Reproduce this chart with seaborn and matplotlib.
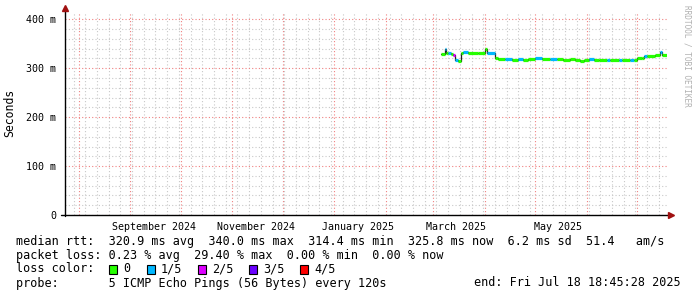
import matplotlib
matplotlib.use("Agg")
import matplotlib.pyplot as plt
import matplotlib.dates as mdates
from matplotlib.patches import Rectangle
import pandas as pd
import seaborn as sns

# ---------------- data ----------------
times = ["2025-03-06", "2025-03-08", "2025-03-09", "2025-03-10", "2025-03-12",
         "2025-03-13", "2025-03-14", "2025-03-16", "2025-03-18", "2025-03-19",
         "2025-03-22", "2025-03-28", "2025-04-01", "2025-04-02", "2025-04-07",
         "2025-04-09", "2025-04-13", "2025-04-17", "2025-04-21", "2025-04-24",
         "2025-04-27", "2025-05-01", "2025-05-05", "2025-05-10", "2025-05-14",
         "2025-05-18", "2025-05-22", "2025-05-25", "2025-05-28", "2025-05-30",
         "2025-06-02", "2025-06-05", "2025-06-08", "2025-06-13", "2025-06-15",
         "2025-06-20", "2025-06-22", "2025-06-27", "2025-06-29", "2025-07-01",
         "2025-07-04", "2025-07-05", "2025-07-07", "2025-07-12", "2025-07-15",
         "2025-07-16"]
median_ms = [330, 339, 331, 331, 330,
             327, 317, 315, 332, 333,
             332, 331, 340, 332, 320,
             319, 318, 317, 318, 317,
             319, 320, 319, 318, 318,
             317, 318, 316, 314, 317,
             318, 316, 317, 316, 317,
             316, 317, 316, 317, 320,
             322, 326, 326, 327, 333,
             327]
loss_level = [0, 1, 0, 1, 0,
              2, 1, 0, 0, 1,
              0, 0, 0, 1, 0,
              0, 1, 0, 1, 0,
              0, 1, 0, 1, 0,
              0, 0, 0, 0, 0,
              1, 0, 0, 1, 0,
              1, 0, 1, 0, 0,
              0, 1, 0, 0, 1,
              0]
end_time = "2025-07-18 18:45:28"
start_time = "2024-07-23 18:45:28"

loss_labels = ["0", "1/5", "2/5", "3/5", "4/5"]
loss_colors = ["#26ff00", "#00b8ff", "#dd00ff", "#6a00ff", "#ff0000"]

y_ticks = [0, 100, 200, 300, 400]
y_tick_labels = ["0", "100 m", "200 m", "300 m", "400 m"]
x_label_dates = ["2024-09-15", "2024-11-15", "2025-01-15", "2025-03-15", "2025-05-15"]
x_label_texts = ["September 2024", "November 2024", "January 2025", "March 2025", "May 2025"]

stats_lines = [
    "median rtt:  320.9 ms avg  340.0 ms max  314.4 ms min  325.8 ms now  6.2 ms sd  51.4   am/s",
    "packet loss: 0.23 % avg  29.40 % max  0.00 % min  0.00 % now",
]
probe_text = "probe:       5 ICMP Echo Pings (56 Bytes) every 120s"
end_text = "end: Fri Jul 18 18:45:28 2025"

# ---------------- figure ----------------
sns.set_theme(style="white")
plt.rcParams["font.family"] = ["DejaVu Sans Mono"]

W, H = 697, 297
fig = plt.figure(figsize=(W / 100, H / 100), dpi=100)
fig.patch.set_facecolor("white")

px_left, px_right, px_top, px_bottom = 64.8, 666.8, 13, 215
ax = fig.add_axes([px_left / W, (H - px_bottom) / H,
                   (px_right - px_left) / W, (px_bottom - px_top) / H])
ax.set_facecolor("white")

t = pd.to_datetime(times + [end_time], format="ISO8601")
vals = median_ms + [median_ms[-1]]
df = pd.DataFrame({"time": t, "median": vals})

sns.lineplot(data=df, x="time", y="median", drawstyle="steps-post",
             color="#202020", lw=0.9, ax=ax, zorder=3)
for i in range(len(times)):
    ax.hlines(median_ms[i], t[i], t[i + 1], colors=loss_colors[loss_level[i]],
              lw=2.3, zorder=4)

ax.set_xlim(pd.Timestamp(start_time), pd.Timestamp(end_time))
ax.set_ylim(0, 413)

# grids
ax.xaxis.set_major_locator(mdates.MonthLocator())
ax.xaxis.set_minor_locator(mdates.WeekdayLocator(byweekday=mdates.MO))
ax.xaxis.set_major_formatter(plt.NullFormatter())
ax.set_yticks(y_ticks)
ax.set_yticklabels(y_tick_labels)
ax.set_yticks(range(0, 413, 20), minor=True)

ax.grid(which="minor", color="#c8c8c8", linestyle=(0, (1, 2)), lw=0.8, zorder=0)
ax.grid(which="major", color="#f08080", linestyle=(0, (1, 2)), lw=0.8, zorder=1)
ax.set_axisbelow(True)

ax.tick_params(axis="y", which="major", direction="out", length=3, width=0.8,
               color="#404040", labelsize=7.2, pad=3, labelcolor="black")
ax.tick_params(axis="y", which="minor", length=0)
ax.tick_params(axis="x", which="major", direction="out", length=3, width=0.8,
               color="#404040", labelsize=7.2, pad=2)
ax.tick_params(axis="x", which="minor", direction="out", length=1.5, width=0.6,
               color="#606060")

for s in ["top", "right"]:
    ax.spines[s].set_visible(False)
ax.spines["left"].set_visible(False)
ax.spines["bottom"].set_visible(False)
ax.set_xlabel("")
ax.set_ylabel("")

# axis lines with arrows (rrdtool style)
top_ext = 1 + 5 / (px_bottom - px_top)
ax.plot([0, 0], [-0.005, top_ext], transform=ax.transAxes, color="black",
        lw=1, clip_on=False, zorder=5)
right_ext = 1 + 4 / (px_right - px_left)
ax.plot([-4 / (px_right - px_left), right_ext], [0, 0], transform=ax.transAxes,
        color="black", lw=1, clip_on=False, zorder=5)
ax.plot([0], [top_ext], marker="^", markersize=4.5, color="#a01010",
        transform=ax.transAxes, clip_on=False, zorder=6)
ax.plot([right_ext], [0], marker=">", markersize=4.5, color="#a01010",
        transform=ax.transAxes, clip_on=False, zorder=6)

# month labels
for d, lab in zip(x_label_dates, x_label_texts):
    ax.text(pd.Timestamp(d), -0.035, lab, transform=ax.get_xaxis_transform(),
            ha="center", va="top", fontsize=7.2, color="black")

# y label
fig.text(10 / W, 1 - 113 / H, "Seconds", rotation=90, ha="center", va="center",
         fontsize=8.3, color="black")

# watermark
fig.text(687 / W, 1 - 5 / H, "RRDTOOL / TOBI OETIKER", rotation=-90,
         ha="center", va="top", fontsize=5.6, color="#b0b0b0")

# legend / stats
fs = 8.5
ys = [241, 255, 269, 283]
for yy, line in zip(ys[:2], stats_lines):
    fig.text(16 / W, 1 - yy / H, line, ha="left", va="center", fontsize=fs,
             color="black")
fig.text(16 / W, 1 - ys[2] / H, "loss color:", ha="left", va="center",
         fontsize=fs, color="black")
sq_x = [109, 147, 198, 249, 300]
for x0, c, lab in zip(sq_x, loss_colors, loss_labels):
    fig.patches.append(Rectangle((x0 / W, 1 - (ys[2] + 4.5) / H), 8 / W, 9 / H,
                                 transform=fig.transFigure, facecolor=c,
                                 edgecolor="black", lw=0.8))
    fig.text((x0 + 14) / W, 1 - ys[2] / H, lab, ha="left", va="center",
             fontsize=fs, color="black")
fig.text(16 / W, 1 - ys[3] / H, probe_text, ha="left", va="center", fontsize=fs,
         color="black")
fig.text(681 / W, 1 - ys[3] / H, end_text, ha="right", va="center", fontsize=fs,
         color="black")

fig.savefig("out.png", dpi=100, facecolor="white")
